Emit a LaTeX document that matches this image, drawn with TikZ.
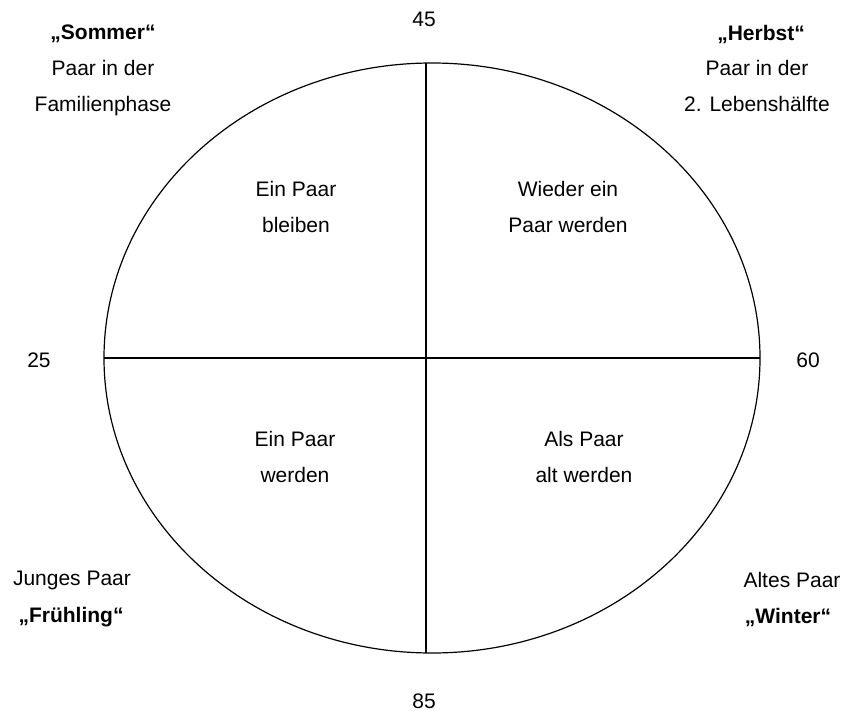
\documentclass[tikz,border=0pt]{standalone}
\usepackage{fontspec}
\setmainfont{Liberation Sans}
\usetikzlibrary{math}

\begin{document}
\begin{tikzpicture}[x=1pt,y=-1pt,line width=1.2pt,
  txt/.style={font=\fontsize{21}{36}\selectfont,align=center,anchor=base,inner sep=0pt},
  season/.style={txt,font=\fontsize{21}{36}\selectfont\bfseries}]
\tikzmath{
\cx=432; \cy=358;
\rx=328; \ry=295;
\vx=426;
\vy=\ry*sqrt(1-((\vx-\cx)/\rx)^2);
}
\useasboundingbox (0,0) rectangle (843,711);

% Kreis der Paarphasen
\draw (\cx,\cy) ellipse [x radius=\rx, y radius=\ry];
\coordinate (top) at (\vx,\cy-\vy);
\coordinate (bottom) at (\vx,\cy+\vy);
\coordinate (left) at (\cx-\rx,\cy);
\coordinate (right) at (\cx+\rx,\cy);
\draw (top) -- (bottom);
\draw (left) -- (right);

% Lebensalter
\node[txt] (age45) at (424,27) {45};
\node[txt] (age85) at (424,708) {85};
\node[txt] (age25) at (39,367) {25};
\node[txt] (age60) at (808,367) {60};

% Jahreszeiten (base = letzte Zeile)
\node[season] (sommer) at (103,40) {„Sommer“};
\node[txt] (sommertxt) at (103,112) {Paar in der\\Familienphase};
\node[season] (herbst) at (761,41) {„Herbst“};
\node[txt] (herbsttxt) at (757,112) {Paar in der\\2. Lebenshälfte};
\node[txt] (fruehlingtxt) at (72,585) {Junges Paar};
\node[season] (fruehling) at (71,622) {„Frühling“};
\node[txt] (wintertxt) at (792,587) {Altes Paar};
\node[season] (winter) at (788,623) {„Winter“};

% Aufgaben
\node[txt] (bleiben) at (296,233) {Ein Paar\\bleiben};
\node[txt] (wieder) at (568,233) {Wieder ein\\Paar werden};
\node[txt] (werden) at (295,482) {Ein Paar\\werden};
\node[txt] (alt) at (584,482) {Als Paar\\alt werden};
\end{tikzpicture}
\end{document}
